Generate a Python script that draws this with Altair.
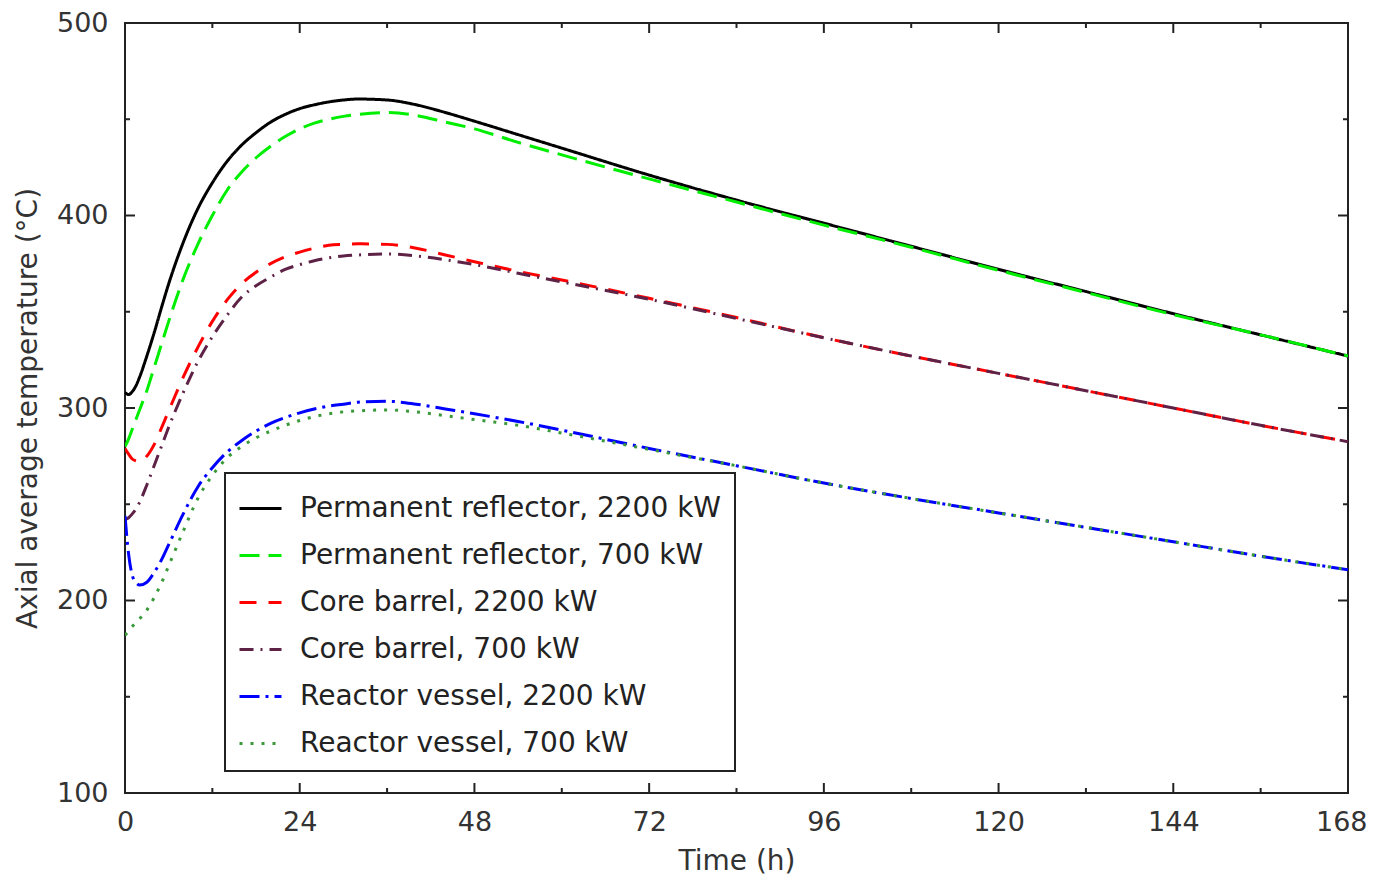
import altair as alt
import pandas as pd

# ---- data ----
t = [0, 0.5, 1, 1.5, 2, 3, 4, 5, 6, 8, 10, 12, 14, 16, 18, 20, 22, 24, 26, 28, 30, 32,
     36, 40, 44, 48, 54, 60, 72, 84, 96, 108, 120, 132, 144, 156, 168]

pr_2200 = [308, 307, 308.5, 311.5, 316, 327, 339, 352, 364.5, 386, 403.5, 417, 428, 436.5,
           443, 448.5, 452.5, 455.5, 457.5, 459, 460, 460.5, 460, 457.5, 453.5, 449, 442,
           435, 421, 408, 396, 384, 372, 360.5, 349, 338, 327]
pr_700 = [280, 284, 289, 294, 299, 309, 321, 333, 345, 367, 385, 400, 413, 422.5, 430, 436,
          441, 445, 448, 450, 451.5, 452.5, 453.5, 452, 448.5, 445, 438, 431.5, 419, 407,
          395, 383.5, 371.5, 360, 348.5, 338, 327]
cb_2200 = [279, 276, 273.5, 272.5, 272, 275, 281, 289.5, 298.5, 316, 331.5, 345, 356, 364.5,
           370.5, 375, 378.5, 381, 383, 384.5, 385, 385.3, 385, 383, 379.5, 376, 371, 366.5,
           357, 347, 336.5, 327, 318, 309, 300, 291, 282.5]
cb_700 = [242, 243, 245, 247.5, 251, 260, 270, 280, 290, 308, 324, 337, 348, 357.5, 363.5,
          368, 372, 374.5, 376.5, 378, 379, 379.5, 380, 379, 377, 374.5, 370, 365.5, 356.5,
          346.5, 336.5, 327, 318, 309, 300, 291, 282.5]
rv_2200 = [244, 224, 213, 209.5, 208, 209.5, 214.5, 221, 229, 245, 259, 269, 277, 283, 288,
           292, 295, 297.5, 299.5, 301, 302, 303, 303.5, 302, 299.5, 297, 293, 288.5, 279,
           270, 261, 253, 245.5, 238, 230.5, 223, 216]
rv_700 = [182, 184, 186.5, 188.5, 190.5, 195, 201.5, 209, 218, 236, 253, 265, 274, 280,
          284.5, 288, 291, 293.5, 295.5, 297, 298, 298.5, 299, 298, 296, 294, 291, 287,
          278.5, 270, 261, 253, 245.5, 238, 230.5, 223, 216]

series_names = [
    "Permanent reflector, 2200 kW",
    "Permanent reflector, 700 kW",
    "Core barrel, 2200 kW",
    "Core barrel, 700 kW",
    "Reactor vessel, 2200 kW",
    "Reactor vessel, 700 kW",
]
series_values = [pr_2200, pr_700, cb_2200, cb_700, rv_2200, rv_700]
series_colors = ["#000000", "#00ee00", "#ff0000", "#5e2246", "#0000ff", "#3a9a3a"]
series_dashes = [[1, 0], [20, 9], [17, 12], [14, 7, 2, 7], [20, 6, 3, 6], [3, 8]]

x_major = [0, 24, 48, 72, 96, 120, 144, 168]
x_minor = [12, 36, 60, 84, 108, 132, 156]
y_major = [100, 200, 300, 400, 500]
y_minor = [150, 250, 350, 450]

W, H = 1223, 770
FONT = "DejaVu Sans"
TXT = "#333333"
FS_LAB = 27
FS_TITLE = 28
FS_LEG = 28

rows = []
for name, vals in zip(series_names, series_values):
    for tt, vv in zip(t, vals):
        rows.append({"series": name, "t": tt, "v": vv})
df = pd.DataFrame(rows)

xs = alt.Scale(domain=[0, 168], nice=False, zero=False)
ys = alt.Scale(domain=[100, 500], nice=False, zero=False)

legend = alt.Legend(
    orient="none", legendX=100, legendY=450, title=None,
    symbolType="stroke", symbolSize=1764, symbolStrokeWidth=3,
    labelFontSize=FS_LEG, labelFont=FONT, labelColor="#222222", labelOffset=17,
    labelLimit=0, padding=13, rowPadding=10,
    strokeColor="#222222", fillColor="white",
)

last_x = "datum.value == %d" % x_major[-1]

lines = alt.Chart(df).mark_line(strokeWidth=3, interpolate="monotone", clip=True).encode(
    x=alt.X("t:Q", scale=xs, title="Time (h)",
            axis=alt.Axis(values=x_major, format="d", grid=False, ticks=False, tickSize=0,
                          domain=False, labelFlush=False, labelPadding=16, titlePadding=12,
                          labelAlign={"condition": {"test": last_x, "value": "right"}, "value": "center"},
                          labelOffset={"condition": {"test": last_x, "value": 19}, "value": 0})),
    y=alt.Y("v:Q", scale=ys, title="Axial average temperature (°C)",
            axis=alt.Axis(values=y_major, format="d", grid=False, ticks=False, tickSize=0,
                          domain=False, labelFlush=False, labelPadding=17, titlePadding=14)),
    color=alt.Color("series:N", scale=alt.Scale(domain=series_names, range=series_colors),
                    sort=series_names, legend=legend),
    strokeDash=alt.StrokeDash("series:N", scale=alt.Scale(domain=series_names, range=series_dashes),
                              sort=series_names, legend=legend),
)

def xticks(vals, length):
    d = pd.DataFrame({"t": vals})
    bottom = alt.Chart(d).mark_rule(color="#222222", strokeWidth=2).encode(
        x=alt.X("t:Q", scale=xs), y=alt.value(H), y2=alt.value(H - length))
    top = alt.Chart(d).mark_rule(color="#222222", strokeWidth=2).encode(
        x=alt.X("t:Q", scale=xs), y=alt.value(0), y2=alt.value(length))
    return [bottom, top]

def yticks(vals, length):
    d = pd.DataFrame({"v": vals})
    left = alt.Chart(d).mark_rule(color="#222222", strokeWidth=2).encode(
        y=alt.Y("v:Q", scale=ys), x=alt.value(0), x2=alt.value(length))
    right = alt.Chart(d).mark_rule(color="#222222", strokeWidth=2).encode(
        y=alt.Y("v:Q", scale=ys), x=alt.value(W), x2=alt.value(W - length))
    return [left, right]

layers = xticks(x_major, 10) + xticks(x_minor, 5) + yticks(y_major, 10) + yticks(y_minor, 5) + [lines]

chart = alt.layer(*layers).properties(
    width=W, height=H,
    autosize=alt.AutoSizeParams(type="none"),
    padding={"left": 117, "top": 15, "right": 21, "bottom": 86},
    background="white",
).configure_view(
    stroke="#222222", strokeWidth=2
).configure_axis(
    labelFont=FONT, labelFontSize=FS_LAB, labelColor=TXT,
    titleFont=FONT, titleFontSize=FS_TITLE, titleColor=TXT, titleFontWeight="normal",
).configure_legend(
    strokeWidth=2
)

chart.save("out.html", embed_options={"renderer": "svg", "actions": False})
